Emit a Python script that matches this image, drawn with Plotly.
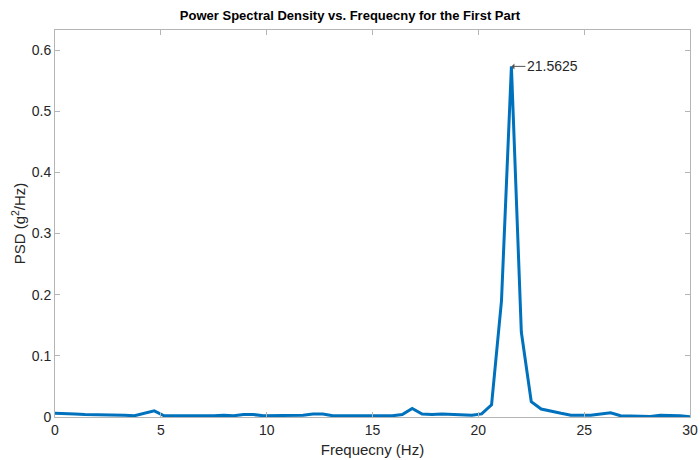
import numpy as np
import plotly.graph_objects as go

# Frequency bins: fs = 60 Hz, N = 128 -> df = 0.46875 Hz, up to Nyquist (30 Hz)
fs = 60.0
nfft = 128
freq = np.arange(nfft // 2 + 1) * fs / nfft

# One-sided PSD estimate (g^2/Hz)
psd = [
    0.006, 0.006, 0.005, 0.004, 0.004, 0.003, 0.004, 0.003, 0.002, 0.006,
    0.010, 0.002, 0.002, 0.0015, 0.0015, 0.001, 0.002, 0.003, 0.002, 0.004,
    0.004, 0.002, 0.002, 0.003, 0.002, 0.003, 0.005, 0.005, 0.002, 0.002,
    0.002, 0.003, 0.002, 0.002, 0.002, 0.004, 0.014, 0.005, 0.004, 0.005,
    0.004, 0.003, 0.003, 0.005, 0.020, 0.190, 0.5735, 0.139, 0.025, 0.013,
    0.009, 0.006, 0.003, 0.003, 0.003, 0.005, 0.007, 0.002, 0.002, 0.001,
    0.001, 0.003, 0.003, 0.002, 0.0005,
]

x_ticks = [0, 5, 10, 15, 20, 25, 30]
y_ticks = [0, 0.1, 0.2, 0.3, 0.4, 0.5, 0.6]

peak_idx = int(np.argmax(psd))
peak_f = float(freq[peak_idx])
peak_p = psd[peak_idx]

font_family = "Liberation Sans, Arial, Helvetica, sans-serif"

fig = go.Figure()
fig.add_trace(go.Scatter(
    x=freq, y=psd, mode="lines",
    line=dict(color="#0072BD", width=3),
    showlegend=False, hoverinfo="x+y",
))

fig.add_annotation(
    x=peak_f, y=peak_p, xref="x", yref="y",
    text=f"{peak_f:g}",
    showarrow=True, arrowhead=1, arrowsize=1, arrowwidth=1,
    arrowcolor="#555555",
    ax=14, ay=0, xanchor="left", yanchor="middle",
    font=dict(family=font_family, size=14, color="#262626"),
)

axis_common = dict(
    showline=True, linecolor="#b5b5b5", linewidth=1, mirror="ticks",
    ticks="inside", ticklen=5, tickcolor="#b5b5b5", tickwidth=1,
    showgrid=False, zeroline=False, automargin=False,
    tickfont=dict(family=font_family, size=14, color="#262626"),
)

fig.update_layout(
    width=700, height=460,
    margin=dict(l=55, r=10, t=30, b=43),
    paper_bgcolor="white", plot_bgcolor="white",
    title=dict(
        text="<b>Power Spectral Density vs. Frequecny for the First Part</b>",
        x=0.5, xanchor="center", y=0.967, yanchor="middle",
        font=dict(family=font_family, size=13, color="black"),
    ),
    xaxis=dict(
        range=[0, 30], tickvals=x_ticks, ticktext=[str(t) for t in x_ticks],
        title=dict(text="Frequecny (Hz)", standoff=7,
                   font=dict(family=font_family, size=15, color="#262626")),
        **axis_common,
    ),
    yaxis=dict(
        range=[0, 0.633], tickvals=y_ticks, ticktext=[f"{t:g}" for t in y_ticks],
        title=dict(text="PSD (g<sup>2</sup>/Hz)", standoff=2,
                   font=dict(family=font_family, size=15, color="#262626")),
        **axis_common,
    ),
)

fig.write_html("out.html")
